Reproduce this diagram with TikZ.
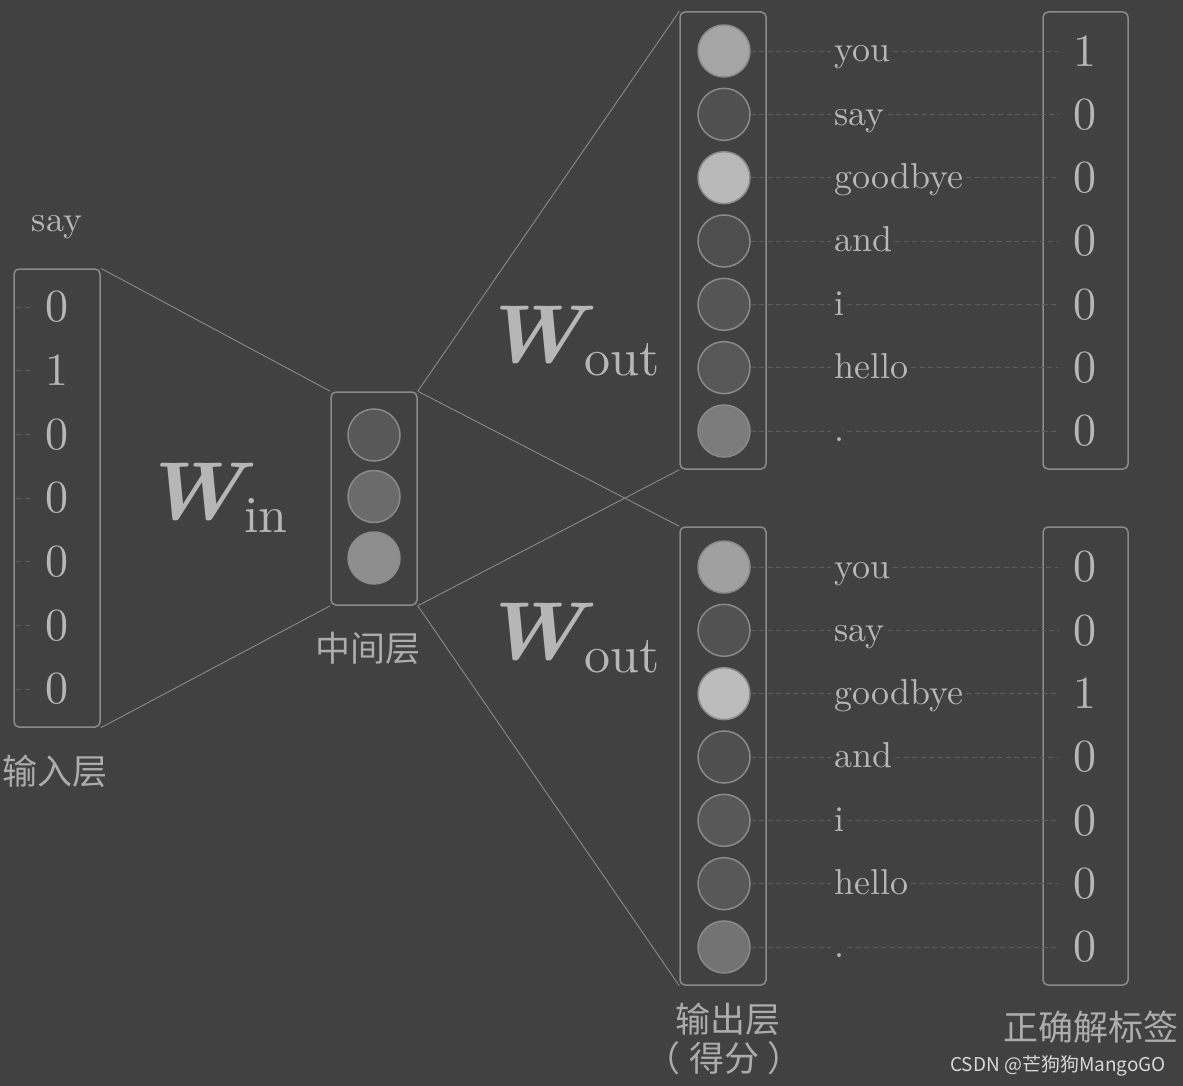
\documentclass[tikz,border=0pt]{standalone}
\usepackage{graphicx}
\usepackage{fontspec}
\setmainfont{lmroman10-regular.otf}[BoldFont=lmroman10-bold.otf,ItalicFont=lmroman10-italic.otf,BoldItalicFont=lmroman10-bolditalic.otf]
\newfontfamily\cjk{Noto Sans CJK SC}
\definecolor{bg}{RGB}{65,65,65}
\definecolor{edge}{RGB}{138,138,138}
\definecolor{txt}{RGB}{182,182,182}
\definecolor{cjktxt}{RGB}{172,172,172}
\definecolor{guidec}{RGB}{92,92,92}
\definecolor{wm}{RGB}{215,215,215}
\newcommand\wsub[1]{\scalebox{1.16}[1.08]{\bfseries\itshape W}\kern1pt\raisebox{-13pt}{\fontsize{52}{52}\selectfont #1}}
\tikzset{
 vbox/.style={draw=edge,line width=1.5pt,rounded corners=5pt,minimum width=86pt,inner sep=0},
 unit/.style={circle,draw=edge,line width=1.5pt,minimum size=52pt,inner sep=0},
 conn/.style={draw=edge,line width=0.9pt},
 guide/.style={draw=guidec,line width=0.9pt,dash pattern=on 5pt off 3.5pt},
 num/.style={text=txt,font=\fontsize{46}{46}\selectfont,inner sep=0},
 word/.style={text=txt,font=\fontsize{36}{36}\selectfont,inner sep=3pt,anchor=base west},
 cjklab/.style={text=cjktxt,font=\cjk\fontsize{35}{40}\selectfont,inner sep=0},
 wlab/.style={text=txt,font=\fontsize{76}{76}\selectfont,inner sep=0,anchor=base west},
}
\begin{document}
\begin{tikzpicture}[x=1pt,y=-1pt]
\fill[bg] (0,0) rectangle (1183,1086);
\useasboundingbox (0,0) rectangle (1183,1086);
% boxes
\node[vbox,minimum height=458pt] (inp) at (57,498) {};
\node[vbox,minimum height=213pt] (mid) at (374,498.5) {};
\node[vbox,minimum height=457pt] (outT) at (723,240.5) {};
\node[vbox,minimum height=458pt] (outB) at (723,756) {};
\node[vbox,minimum width=85pt,minimum height=457pt] (labT) at (1085.5,240.5) {};
\node[vbox,minimum width=85pt,minimum height=458pt] (labB) at (1085.5,756) {};
% connectors
\draw[conn] (inp.north east) -- (mid.north west);
\draw[conn] (inp.south east) -- (mid.south west);
\draw[conn] (mid.north east) -- (outT.north west);
\draw[conn] (mid.north east) -- (outB.north west);
\draw[conn] (mid.south east) -- (outT.south west);
\draw[conn] (mid.south east) -- (outB.south west);
% input values
\foreach \v [count=\i from 0] in {0,1,0,0,0,0,0} {
  \pgfmathsetmacro\yy{307+63.67*\i}
  \draw[guide] (16,\yy) -- (31,\yy);
  \node[num] (in\i) at (57,\yy) {\v};
}
\node[word,anchor=base] (inword) at (57,231) {say};
% middle units
\foreach \f [count=\i from 0] in {88,107,142} {
  \pgfmathsetmacro\yy{435+61.5*\i}
  \node[unit,fill={rgb,255:red,\f;green,\f;blue,\f}] (m\i) at (374,\yy) {};
}
% output top
\foreach \w/\f/\l [count=\i from 0] in {you/165/1,say/80/0,goodbye/185/0,and/78/0,i/85/0,hello/87/0,./124/0} {
  \pgfmathsetmacro\yy{51+63.33*\i}
  \node[unit,fill={rgb,255:red,\f;green,\f;blue,\f}] (t\i) at (724,\yy) {};
  \node[word] (tw\i) at (831,\yy+11) {\w};
  \coordinate (te\i) at (1058,\yy);
  \draw[guide] (t\i.east) -- (t\i.east -| tw\i.west);
  \draw[guide] (tw\i.east |- t\i.east) -- (te\i);
  \node[num] (tl\i) at (1085,\yy) {\l};
}
% output bottom
\foreach \w/\f/\l [count=\i from 0] in {you/160/0,say/82/0,goodbye/188/1,and/79/0,i/88/0,hello/88/0,./115/0} {
  \pgfmathsetmacro\yy{567+63.33*\i}
  \node[unit,fill={rgb,255:red,\f;green,\f;blue,\f}] (b\i) at (724,\yy) {};
  \node[word] (bw\i) at (831,\yy+11) {\w};
  \coordinate (be\i) at (1058,\yy);
  \draw[guide] (b\i.east) -- (b\i.east -| bw\i.west);
  \draw[guide] (bw\i.east |- b\i.east) -- (be\i);
  \node[num] (bl\i) at (1085,\yy) {\l};
}
% weight labels
\node[wlab] (win) at (141,519) {\wsub{in}};
\node[wlab] (wout1) at (481,362) {\wsub{out}};
\node[wlab] (wout2) at (481,659) {\wsub{out}};
% chinese labels
\node[cjklab] (linp) at (55,771) {输入层};
\node[cjklab] (lmid) at (368,648) {中间层};
\node[cjklab] (lout) at (728,1019) {输出层};
\node[cjklab] (lout2) at (724,1058) {（\hspace{9pt}得分\hspace{9pt}）};
\node[cjklab] (llab) at (1091,1027) {正确解标签};
\node[text=wm,font=\cjk\fontsize{19}{19}\selectfont,inner sep=0] (wmark) at (1058,1066) {CSDN @芒狗狗MangoGO};
\end{tikzpicture}
\end{document}
